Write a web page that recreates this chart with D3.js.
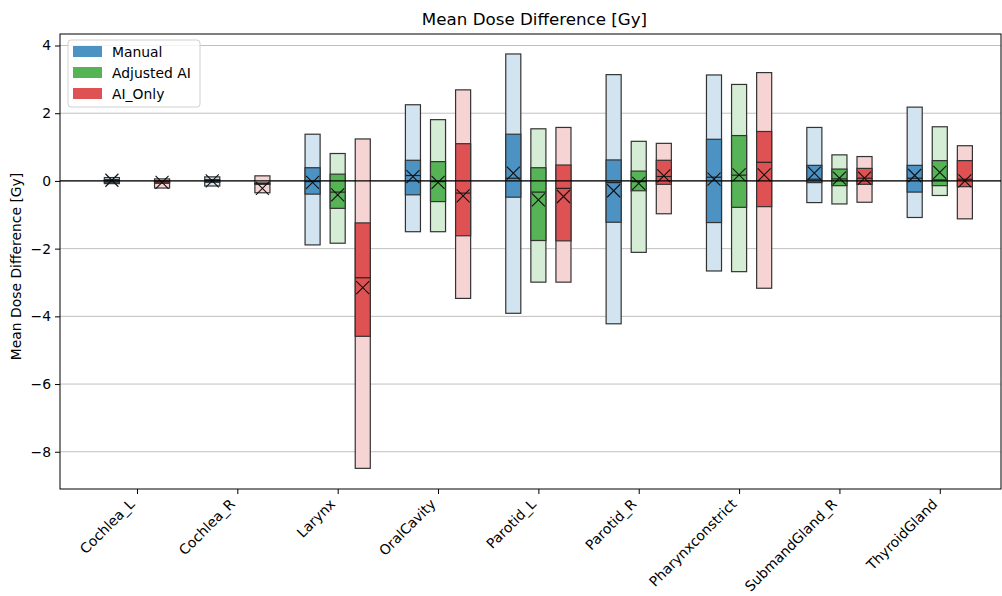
<!DOCTYPE html>
<html>
<head>
<meta charset="utf-8">
<script src="https://cdn.jsdelivr.net/npm/d3@7"></script>
<style>
  body { margin: 0; background: #fff; }
  text { font-family: "DejaVu Sans", sans-serif; }
</style>
</head>
<body>
<svg id="chart" width="1002" height="596"></svg>
<script>
// categories and groups
const organs = ["Cochlea_L", "Cochlea_R", "Larynx", "OralCavity", "Parotid_L",
                "Parotid_R", "Pharynxconstrict", "SubmandGland_R", "ThyroidGland"];
const groups = ["Manual", "Adjusted AI", "AI_Only"];

// per group: [min, q1, median, q3, max, mean] for each organ (null = no data)
const manualStats = [
  [-0.08, -0.04, 0.0, 0.04, 0.1, 0.02],
  [-0.15, -0.04, 0.0, 0.04, 0.12, 0.0],
  [-1.89, -0.39, -0.02, 0.39, 1.38, -0.04],
  [-1.5, -0.41, 0.16, 0.61, 2.25, 0.13],
  [-3.91, -0.48, 0.08, 1.38, 3.75, 0.23],
  [-4.22, -1.22, -0.05, 0.62, 3.14, -0.29],
  [-2.66, -1.23, 0.11, 1.23, 3.13, 0.05],
  [-0.64, -0.05, 0.05, 0.46, 1.58, 0.23],
  [-1.08, -0.33, 0.08, 0.46, 2.18, 0.16]
];
const adjustedStats = [
  null,
  null,
  [-1.84, -0.81, -0.33, 0.2, 0.81, -0.41],
  [-1.5, -0.61, -0.02, 0.57, 1.81, -0.04],
  [-2.99, -1.76, -0.33, 0.39, 1.54, -0.56],
  [-2.11, -0.29, -0.02, 0.29, 1.17, -0.07],
  [-2.68, -0.78, 0.17, 1.34, 2.85, 0.18],
  [-0.68, -0.14, 0.06, 0.35, 0.77, 0.08],
  [-0.43, -0.14, 0.03, 0.6, 1.6, 0.25]
];
const aiOnlyStats = [
  [-0.21, -0.07, -0.03, 0.0, 0.06, -0.04],
  [-0.35, -0.1, -0.08, -0.06, 0.15, -0.22],
  [-8.49, -4.59, -2.86, -1.24, 1.24, -3.15],
  [-3.47, -1.62, -0.36, 1.1, 2.69, -0.44],
  [-2.99, -1.77, -0.22, 0.47, 1.58, -0.46],
  [-0.97, -0.1, 0.13, 0.61, 1.11, 0.15],
  [-3.17, -0.76, 0.55, 1.46, 3.2, 0.18],
  [-0.63, -0.1, 0.08, 0.37, 0.72, 0.08],
  [-1.12, -0.17, 0.05, 0.6, 1.04, 0.0]
];
const yTicks = [-8, -6, -4, -2, 0, 2, 4];

const allStats = [manualStats, adjustedStats, aiOnlyStats];
const baseColors = ["#1f77b4", "#2ca02c", "#d62728"];
const offsets = [-0.25, 0, 0.25];
const boxW = 0.15;
const fs = 13.9;

const svg = d3.select("#chart");
const pLeft = 60, pRight = 1001, pTop = 34, pBottom = 489;

const x = d3.scaleLinear().domain([-0.767, 8.61]).range([pLeft, pRight]);
const y = d3.scaleLinear().domain([-9.1, 4.34]).range([pBottom, pTop]);

// grid
svg.append("g")
  .selectAll("line")
  .data(yTicks)
  .join("line")
  .attr("x1", pLeft).attr("x2", pRight)
  .attr("y1", d => y(d)).attr("y2", d => y(d))
  .attr("stroke", "#b0b0b0").attr("stroke-width", 0.8);

const mix = (c, a) => {
  const r = d3.rgb(c);
  return d3.rgb(r.r * a + 255 * (1 - a), r.g * a + 255 * (1 - a), r.b * a + 255 * (1 - a)).formatHex();
};

// boxes
allStats.forEach((stats, gi) => {
  const g = svg.append("g");
  const dark = mix(baseColors[gi], 0.8), light = mix(baseColors[gi], 0.2);
  stats.forEach((s, i) => {
    if (!s) return;
    const [mn, q1, md, q3, mx, mean] = s;
    const cx = i + offsets[gi];
    const x0 = x(cx - boxW / 2), w = x(cx + boxW / 2) - x(cx - boxW / 2);
    g.append("rect")
      .attr("x", x0).attr("y", y(mx)).attr("width", w).attr("height", y(mn) - y(mx))
      .attr("fill", light).attr("stroke", "#333").attr("stroke-width", 1.2);
    g.append("rect")
      .attr("x", x0).attr("y", y(q3)).attr("width", w).attr("height", y(q1) - y(q3))
      .attr("fill", dark).attr("stroke", "#333").attr("stroke-width", 1.2);
    g.append("line")
      .attr("x1", x0).attr("x2", x0 + w).attr("y1", y(md)).attr("y2", y(md))
      .attr("stroke", "#222").attr("stroke-width", 1.2);
    const px = x(cx), py = y(mean), r = 6.5;
    g.append("path")
      .attr("d", `M${px - r},${py - r}L${px + r},${py + r}M${px - r},${py + r}L${px + r},${py - r}`)
      .attr("stroke", "#111").attr("stroke-width", 1.1).attr("fill", "none");
  });
});

// zero line
svg.append("line")
  .attr("x1", pLeft).attr("x2", pRight).attr("y1", y(0)).attr("y2", y(0))
  .attr("stroke", "#000").attr("stroke-width", 1.2);

// axes
const yAxis = svg.append("g")
  .attr("transform", `translate(${pLeft},0)`)
  .call(d3.axisLeft(y).tickValues(yTicks).tickSize(5).tickPadding(4)
    .tickFormat(d => d < 0 ? "\u2212" + Math.abs(d) : d));
yAxis.select(".domain").remove();
yAxis.selectAll("text").attr("font-size", fs).attr("fill", "#000");

const xAxis = svg.append("g")
  .attr("transform", `translate(0,${pBottom})`)
  .call(d3.axisBottom(x).tickValues(d3.range(organs.length)).tickSize(5)
    .tickFormat(i => organs[i]));
xAxis.select(".domain").remove();
xAxis.selectAll("text")
  .attr("font-size", fs).attr("fill", "#000")
  .attr("text-anchor", "end")
  .attr("x", 0).attr("y", 0).attr("dy", 0)
  .attr("transform", "translate(-2,16) rotate(-45)");

// frame
svg.append("rect")
  .attr("x", pLeft).attr("y", pTop).attr("width", pRight - pLeft).attr("height", pBottom - pTop)
  .attr("fill", "none").attr("stroke", "#000").attr("stroke-width", 1);

// title and labels
svg.append("text")
  .attr("x", (pLeft + pRight) / 2 + 4).attr("y", 25)
  .attr("text-anchor", "middle").attr("font-size", 16.7)
  .text("Mean Dose Difference [Gy]");
svg.append("text")
  .attr("transform", `translate(21,${(pTop + pBottom) / 2 + 5}) rotate(-90)`)
  .attr("text-anchor", "middle").attr("font-size", fs)
  .text("Mean Dose Difference [Gy]");

// legend
const lg = svg.append("g").attr("transform", "translate(68,40)");
lg.append("rect").attr("width", 132).attr("height", 67).attr("rx", 3)
  .attr("fill", "#fff").attr("fill-opacity", 0.8).attr("stroke", "#d0d0d0");
groups.forEach((name, i) => {
  lg.append("rect").attr("x", 5).attr("y", 6 + i * 21).attr("width", 29).attr("height", 11)
    .attr("fill", mix(baseColors[i], 0.8));
  lg.append("text").attr("x", 44).attr("y", 17 + i * 21).attr("font-size", fs).text(name);
});
</script>
</body>
</html>
